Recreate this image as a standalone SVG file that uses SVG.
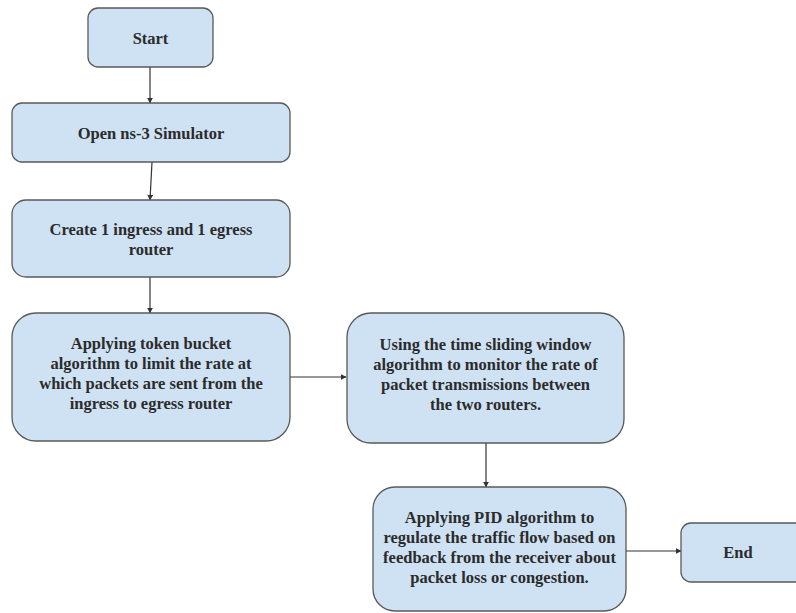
<svg xmlns="http://www.w3.org/2000/svg" width="796" height="613" viewBox="0 0 796 613">
<defs>
<style>
.n{fill:#cfe2f3;stroke:#595959;stroke-width:1.3}
.t{font-family:"Liberation Serif",serif;font-size:16.5px;font-weight:bold;fill:#2b2b2b;text-anchor:middle}
.c{fill:none;stroke:#333;stroke-width:1.2;marker-end:url(#a)}
</style>
<marker id="a" viewBox="0 0 10 10" refX="9" refY="5" markerWidth="5" markerHeight="5" orient="auto"><path d="M0,0L10,5L0,10z" fill="#333"/></marker>
</defs>
<rect width="796" height="613" fill="#fff"/>
<g id="connectors">
<path class="c" d="M150,67V103"/>
<path class="c" d="M152,162L150,200"/>
<path class="c" d="M150,277V313"/>
<path class="c" d="M290,377H346"/>
<path class="c" d="M486,443V487"/>
<path class="c" d="M626,551H681"/>
</g>
<g id="start"><rect class="n" x="88" y="8" width="125" height="59" rx="10"/><text class="t" x="150.5" y="44">Start</text></g>
<g id="open"><rect class="n" x="12" y="103" width="278" height="59" rx="10"/><text class="t" x="151" y="139">Open ns-3 Simulator</text></g>
<g id="create"><rect class="n" x="12" y="200" width="278" height="77" rx="14"/><text class="t" x="151" y="235">Create 1 ingress and 1 egress</text><text class="t" x="151" y="255">router</text></g>
<g id="token"><rect class="n" x="12" y="313" width="278" height="128" rx="24"/><text class="t" x="151" y="349">Applying token bucket</text><text class="t" x="151" y="369">algorithm to limit the rate at</text><text class="t" x="151" y="389">which packets are sent from the</text><text class="t" x="151" y="409">ingress to egress router</text></g>
<g id="sliding"><rect class="n" x="347" y="313" width="277" height="130" rx="24"/><text class="t" x="485.5" y="350">Using the time sliding window</text><text class="t" x="485.5" y="370">algorithm to monitor the rate of</text><text class="t" x="485.5" y="390">packet transmissions between</text><text class="t" x="485.5" y="410">the two routers.</text></g>
<g id="pid"><rect class="n" x="373" y="487" width="253" height="124" rx="22"/><text class="t" x="499.5" y="523">Applying PID algorithm to</text><text class="t" x="499.5" y="543">regulate the traffic flow based on</text><text class="t" x="499.5" y="563">feedback from the receiver about</text><text class="t" x="499.5" y="583">packet loss or congestion.</text></g>
<g id="end"><rect class="n" x="681" y="523" width="125" height="59" rx="10"/><text class="t" x="738" y="558">End</text></g>
</svg>
